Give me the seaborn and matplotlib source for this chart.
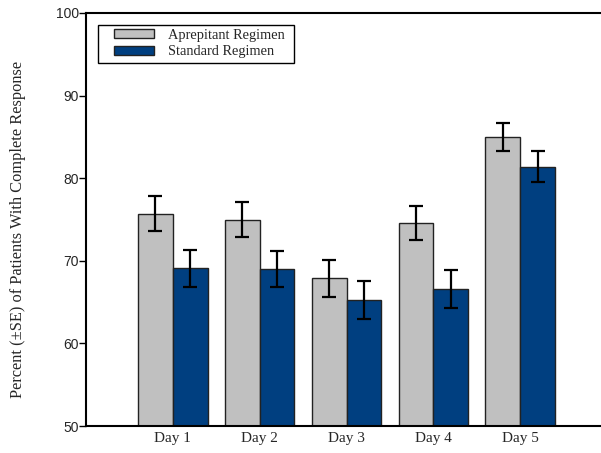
import matplotlib
matplotlib.use("Agg")
import matplotlib.pyplot as plt
import matplotlib.patches as mpatches
import seaborn as sns
import pandas as pd
import numpy as np

days = ["Day 1", "Day 2", "Day 3", "Day 4", "Day 5"]
regimens = ["Aprepitant Regimen", "Standard Regimen"]
aprepitant = [75.7, 75.0, 67.9, 74.6, 85.0]
standard = [69.1, 69.0, 65.3, 66.6, 81.4]
aprepitant_se = [2.1, 2.1, 2.25, 2.05, 1.7]
standard_se = [2.25, 2.2, 2.3, 2.3, 1.9]
yticks = [50, 60, 70, 80, 90, 100]

df = pd.DataFrame({
    "Day": days * 2,
    "Regimen": [regimens[0]] * 5 + [regimens[1]] * 5,
    "Value": aprepitant + standard,
    "SE": aprepitant_se + standard_se,
})

sns.set_style("white")
plt.rcParams["font.family"] = ["Liberation Serif", "DejaVu Serif"]

W, H = 601, 453
fig = plt.figure(figsize=(W / 100, H / 100), dpi=100)
ax = fig.add_axes([86 / W, 27 / H, 1 - 86 / W, (426 - 13) / H])

colors = ["#C0C0C0", "#003F80"]
sns.barplot(data=df, x="Day", y="Value", hue="Regimen", palette=colors,
            errorbar=None, width=0.8, edgecolor="#222222", linewidth=1.0,
            saturation=1, ax=ax)

# error bars from bar geometry
for cont, reg in zip(ax.containers, regimens):
    sub = df[df["Regimen"] == reg]
    xs = [p.get_x() + p.get_width() / 2 for p in cont.patches]
    ax.errorbar(xs, sub["Value"].values, yerr=sub["SE"].values, fmt="none",
                ecolor="black", elinewidth=1.6, capsize=5, capthick=1.6, zorder=5)

ax.set_ylim(50, 100)
ax.set_xlim(-1.0, 4.93)
ax.set_yticks(yticks)
ax.set_yticklabels([str(t) for t in yticks], fontfamily="Liberation Sans", fontsize=10)
ax.tick_params(axis="y", direction="out", length=5, width=1, color="black", pad=0, left=True)
ax.tick_params(axis="x", length=0, labelsize=11, pad=4)
ax.set_xlabel("")
ax.set_ylabel("Percent (\u00b1SE) of Patients With Complete Response", fontsize=11.8)
ax.yaxis.set_label_coords((26 - 86) / (W - 86), 0.5 - 10 / 413)

for s in ["left", "top", "bottom"]:
    ax.spines[s].set_visible(True)
    ax.spines[s].set_color("black")
    ax.spines[s].set_linewidth(1.5)
ax.spines["right"].set_visible(False)

# legend (frame drawn separately to match padding)
leg = ax.legend(loc="upper left", bbox_to_anchor=((114 - 86) / (W - 86), 1 - (29 - 13) / 413),
                fontsize=10.4, frameon=False,
                handlelength=2.8, handleheight=0.6, borderpad=0, labelspacing=0.22,
                handletextpad=0.95, borderaxespad=0)
for h in leg.legend_handles:
    h.set_edgecolor("#222222")
    h.set_linewidth(1.0)
leg.set_zorder(10)
frame = mpatches.Rectangle((98 / W, 1 - 63 / H), (294 - 98) / W, (63 - 25) / H,
                           transform=fig.transFigure, facecolor="white",
                           edgecolor="black", linewidth=1.0, zorder=8, clip_on=False)
ax.add_patch(frame)

fig.savefig("out.png", dpi=100)
